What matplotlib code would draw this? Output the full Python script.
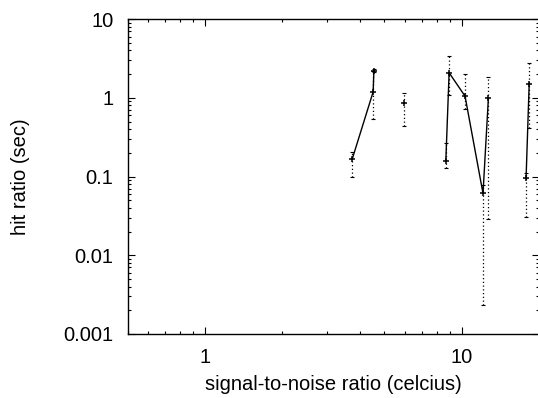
import numpy as np
import matplotlib
matplotlib.use('Agg')
import matplotlib.pyplot as plt
from matplotlib.ticker import LogLocator, FixedLocator, FixedFormatter, NullFormatter

plt.rcParams['font.family'] = ['Liberation Sans', 'DejaVu Sans']

# values, NaN = break in the line
snr = [3.75, 4.52, 4.55, np.nan, 5.96, np.nan, 8.67, 8.93, 10.3, 12.1, 12.7, np.nan, 17.8, 18.3]
hit = [0.168, 1.19, 2.2, np.nan, 0.85, np.nan, 0.157, 2.08, 1.05, 0.061, 1.0, np.nan, 0.095, 1.48]
hit_lo = [0.10, 0.54, 2.1, np.nan, 0.44, np.nan, 0.127, 1.08, 0.73, 0.0023, 0.0286, np.nan, 0.031, 0.41]
hit_hi = [0.206, 2.2, 2.3, np.nan, 1.16, np.nan, 0.27, 3.39, 1.98, 0.078, 1.82, np.nan, 0.11, 2.74]

x = np.array(snr)
y = np.array(hit)
lo = np.array(hit_lo)
hi = np.array(hit_hi)

fig = plt.figure(figsize=(5.38, 3.98), dpi=100)
ax = fig.add_axes([0.237, 0.161, 0.765, 0.791])

ok = ~np.isnan(x)
eb = ax.errorbar(x[ok], y[ok], yerr=[y[ok] - lo[ok], hi[ok] - y[ok]], fmt='none',
                 ecolor='black', elinewidth=0.9, capsize=1.5, capthick=0.8)
eb[2][0].set_linestyle((0, (1, 2)))

ax.plot(x, y, color='black', lw=1.0, marker='+', ms=5, mew=1.1)

ax.set_xscale('log')
ax.set_yscale('log')
ax.set_xlim(0.5, 20)
ax.set_ylim(0.001, 10)

ax.xaxis.set_major_locator(FixedLocator([1, 10]))
ax.xaxis.set_major_formatter(FixedFormatter(['1', '10']))
ax.xaxis.set_minor_locator(LogLocator(base=10, subs=np.arange(2, 10)))
ax.xaxis.set_minor_formatter(NullFormatter())
ax.yaxis.set_major_locator(FixedLocator([0.001, 0.01, 0.1, 1, 10]))
ax.yaxis.set_major_formatter(FixedFormatter(['0.001', '0.01', '0.1', '1', '10']))
ax.yaxis.set_minor_locator(LogLocator(base=10, subs=np.arange(2, 10)))
ax.yaxis.set_minor_formatter(NullFormatter())

ax.tick_params(which='both', direction='in', top=True, right=True, labelsize=14.5, width=0.8)
ax.tick_params(which='major', length=5, pad=10)
ax.tick_params(which='minor', length=2.5)
for s in ax.spines.values():
    s.set_linewidth(1.0)

ax.set_xlabel('signal-to-noise ratio (celcius)', fontsize=14.5, labelpad=6)
ax.set_ylabel('hit ratio (sec)', fontsize=14.5, labelpad=24)

fig.savefig('out.png', dpi=100)
